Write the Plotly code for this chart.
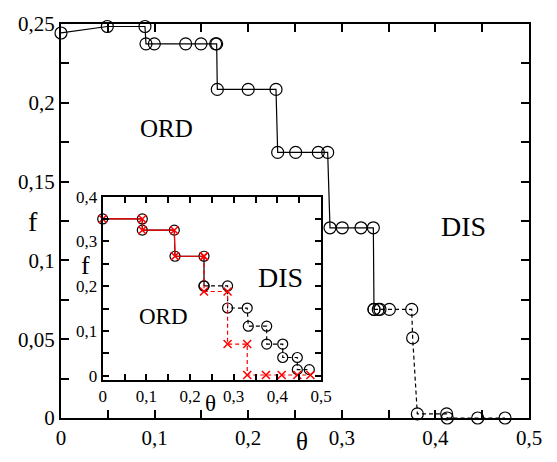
import plotly.graph_objects as go

# Main series: theta, f (solid part then dashed part)
main_solid_x = [0.0, 0.0495, 0.0897, 0.0908, 0.0997, 0.1332, 0.1496, 0.1652, 0.1663,
                0.167, 0.200, 0.2297, 0.2315, 0.2507, 0.2749, 0.2849,
                0.2874, 0.3005, 0.3205, 0.3337, 0.3344]
main_solid_y = [0.2443, 0.2484, 0.2484, 0.2374, 0.2374, 0.2374, 0.2374, 0.2374, 0.2374,
                0.2085, 0.2085, 0.2085, 0.1685, 0.1685, 0.1685, 0.1685,
                0.1207, 0.1207, 0.1207, 0.1207, 0.0689]
main_dash_x = [0.3344, 0.339, 0.3408, 0.3508, 0.3747, 0.3757, 0.3807, 0.412, 0.4127, 0.4452, 0.4744]
main_dash_y = [0.0689, 0.0689, 0.0689, 0.0689, 0.0689, 0.0508, 0.0026, 0.0026, 0.0, 0.0, 0.0]

# Inset black circles
ins_b_solid_x = [0.0, 0.0907, 0.0907, 0.164, 0.1656, 0.232, 0.232]
ins_b_solid_y = [0.350, 0.350, 0.325, 0.325, 0.2667, 0.2667, 0.2004]
ins_b_dash_x = [0.232, 0.286, 0.286, 0.331, 0.3334, 0.3756, 0.3756, 0.4123, 0.4123, 0.4457, 0.4457, 0.4732]
ins_b_dash_y = [0.2004, 0.2004, 0.1512, 0.151, 0.1105, 0.1105, 0.0706, 0.0706, 0.0406, 0.0406, 0.0135, 0.0135]

# Inset red crosses
ins_r_solid_x = [0.0, 0.0907, 0.0907, 0.164, 0.1656, 0.232]
ins_r_solid_y = [0.350, 0.350, 0.325, 0.325, 0.2667, 0.2667]
ins_r_dash_x = [0.232, 0.232, 0.286, 0.286, 0.331, 0.331, 0.374, 0.410, 0.4457, 0.4757]
ins_r_dash_y = [0.2667, 0.188, 0.188, 0.0706, 0.0706, 0.0015, 0.0015, 0.0015, 0.0015, 0.0015]

main_xticks = [0, 0.05, 0.1, 0.15, 0.2, 0.25, 0.3, 0.35, 0.4, 0.45, 0.5]
main_xlabels = ["0", "", "0,1", "", "0,2", "", "0,3", "", "0,4", "", "0,5"]
main_yticks = [0, 0.025, 0.05, 0.075, 0.1, 0.125, 0.15, 0.175, 0.2, 0.225, 0.25]
main_ylabels = ["0", "", "0,05", "", "0,1", "", "0,15", "", "0,2", "", "0,25"]
ins_xticks = [0, 0.05, 0.1, 0.15, 0.2, 0.25, 0.3, 0.35, 0.4, 0.45, 0.5]
ins_xlabels = ["0", "", "0,1", "", "0,2", "", "0,3", "", "0,4", "", "0,5"]
ins_yticks = [0, 0.05, 0.1, 0.15, 0.2, 0.25, 0.3, 0.35, 0.4]
ins_ylabels = ["0", "", "0,1", "", "0,2", "", "0,3", "", "0,4"]

FONT = "Liberation Serif"
fig = go.Figure()

circ = dict(symbol="circle-open", size=12, color="black", line=dict(width=1.2, color="black"))
fig.add_trace(go.Scatter(x=main_solid_x, y=main_solid_y, mode="lines+markers",
                         line=dict(color="black", width=1.2), marker=circ, cliponaxis=False,
                         showlegend=False))
fig.add_trace(go.Scatter(x=main_dash_x, y=main_dash_y, mode="lines+markers",
                         line=dict(color="black", width=1.2, dash="4px,3px"), marker=circ, cliponaxis=False,
                         showlegend=False))

circ2 = dict(symbol="circle-open", size=10, color="black", line=dict(width=1.2, color="black"))
fig.add_trace(go.Scatter(x=ins_b_solid_x, y=ins_b_solid_y, mode="lines+markers",
                         line=dict(color="black", width=1.2), marker=circ2, cliponaxis=False,
                         xaxis="x2", yaxis="y2", showlegend=False))
fig.add_trace(go.Scatter(x=ins_b_dash_x, y=ins_b_dash_y, mode="lines+markers",
                         line=dict(color="black", width=1.2, dash="4px,3px"), marker=circ2, cliponaxis=False,
                         xaxis="x2", yaxis="y2", showlegend=False))
cross = dict(symbol="x-thin-open", size=8, color="red", line=dict(width=1.5, color="red"))
fig.add_trace(go.Scatter(x=ins_r_solid_x, y=ins_r_solid_y, mode="lines+markers",
                         line=dict(color="red", width=1.2), marker=cross, cliponaxis=False,
                         xaxis="x2", yaxis="y2", showlegend=False))
fig.add_trace(go.Scatter(x=ins_r_dash_x, y=ins_r_dash_y, mode="lines+markers",
                         line=dict(color="red", width=1.2, dash="4px,3px"), marker=cross, cliponaxis=False,
                         xaxis="x2", yaxis="y2", showlegend=False))

fig.update_layout(
    width=557, height=462,
    margin=dict(l=61, r=28, t=15, b=37),
    paper_bgcolor="white", plot_bgcolor="white",
    xaxis=dict(range=[0, 0.5], tickvals=main_xticks, ticktext=main_xlabels, zeroline=False,
               showline=True, linecolor="black", linewidth=2, mirror="allticks",
               ticks="inside", ticklen=8, tickwidth=2, tickcolor="black",
               tickfont=dict(family=FONT, size=21, color="black")),
    yaxis=dict(range=[0, 0.25], tickvals=main_yticks, ticktext=main_ylabels, zeroline=False,
               showline=True, linecolor="black", linewidth=2, mirror="allticks",
               ticks="inside", ticklen=8, tickwidth=2, tickcolor="black",
               tickfont=dict(family=FONT, size=21, color="black")),
    xaxis2=dict(range=[0, 0.5], tickvals=ins_xticks, ticktext=ins_xlabels, domain=[0.0891, 0.5556],
                anchor="y2", zeroline=False, showline=True, linecolor="black", linewidth=2, mirror="allticks",
                ticks="inside", ticklen=6, tickwidth=2, tickcolor="black",
                tickfont=dict(family=FONT, size=17, color="black")),
    yaxis2=dict(range=[-0.0086, 0.4], tickvals=ins_yticks, ticktext=ins_ylabels, domain=[0.0976, 0.562],
                anchor="x2", zeroline=False, showline=True, linecolor="black", linewidth=2, mirror="allticks",
                ticks="inside", ticklen=6, tickwidth=2, tickcolor="black",
                tickfont=dict(family=FONT, size=17, color="black")),
)

def txt(s, x, y, size):
    fig.add_annotation(text=s, x=x, y=y, xref="paper", yref="paper", showarrow=False,
                       font=dict(family=FONT, size=size, color="black"),
                       xanchor="center", yanchor="middle")

txt("ORD", 0.2259, 0.734, 25)
txt("DIS", 0.859, 0.486, 28)
txt("DIS", 0.470, 0.356, 28)
txt("ORD", 0.2186, 0.258, 23)
txt("θ", 0.514, -0.059, 25)
txt("f", -0.0598, 0.5, 28)
txt("θ", 0.3205, 0.0366, 23)
txt("f", 0.0513, 0.388, 26)

fig.write_html("out.html")
